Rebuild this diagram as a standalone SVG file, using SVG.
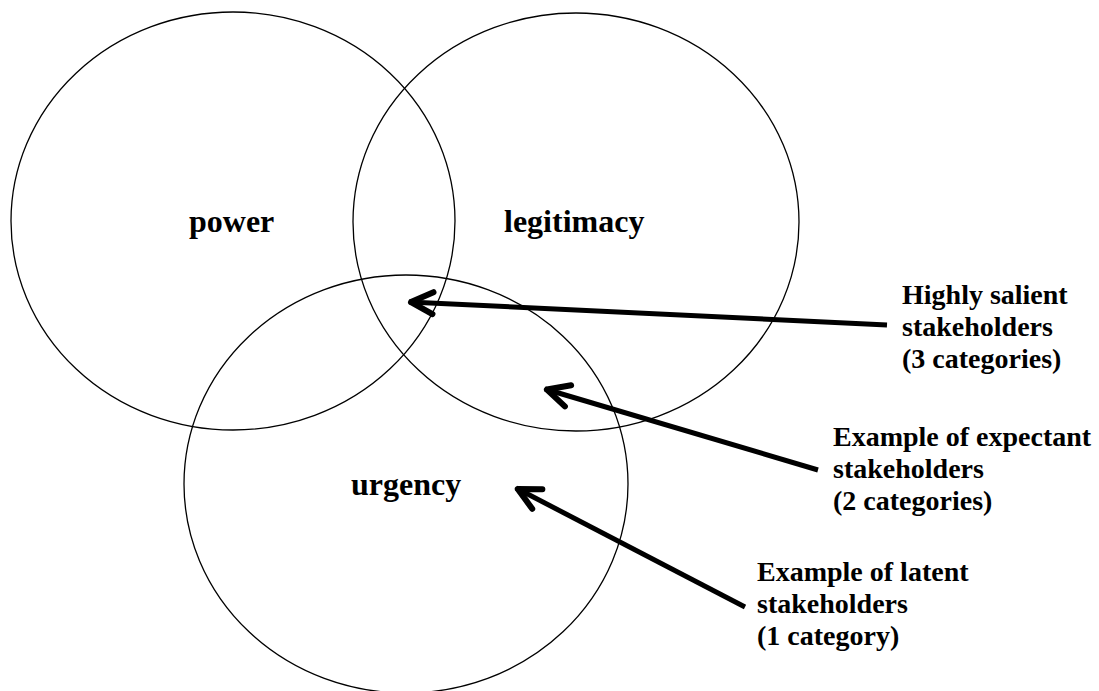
<svg xmlns="http://www.w3.org/2000/svg" width="1099" height="691" viewBox="0 0 1099 691">
  <style>
    .set { fill: none; stroke: #000; stroke-width: 1.3; }
    .big { font-family: "Liberation Serif", "Times New Roman", serif; font-weight: bold; font-size: 32px; fill: #000; }
    .note { font-family: "Liberation Serif", "Times New Roman", serif; font-weight: bold; font-size: 28px; fill: #000; }
    .pointer { fill: none; stroke: #000; stroke-width: 5; }
  </style>
  <defs>
    <marker id="chevron" markerUnits="userSpaceOnUse" markerWidth="60" markerHeight="60" refX="0" refY="0" orient="auto" overflow="visible" viewBox="-30 -30 60 60">
      <path d="M -24 -11 L -2 0 L -24 11" fill="none" stroke="#000" stroke-width="6" stroke-linejoin="round" stroke-linecap="round"/>
    </marker>
  </defs>
  <rect width="1099" height="691" fill="#fff"/>

  <g id="power">
    <ellipse class="set" cx="233" cy="221" rx="222" ry="209"/>
    <text class="big" x="189" y="232">power</text>
  </g>

  <g id="legitimacy">
    <ellipse class="set" cx="576" cy="222" rx="223" ry="209"/>
    <text class="big" x="504" y="232">legitimacy</text>
  </g>

  <g id="urgency">
    <ellipse class="set" cx="406" cy="484" rx="222" ry="209"/>
    <text class="big" x="351" y="495">urgency</text>
  </g>

  <g id="highly-salient">
    <text class="note" x="902"><tspan x="902" y="304">Highly salient</tspan><tspan x="902" y="336">stakeholders</tspan><tspan x="902" y="368">(3 categories)</tspan></text>
  </g>

  <g id="expectant">
    <text class="note"><tspan x="833" y="446">Example of expectant</tspan><tspan x="833" y="478">stakeholders</tspan><tspan x="833" y="510">(2 categories)</tspan></text>
  </g>

  <g id="latent">
    <text class="note"><tspan x="757" y="581">Example of latent</tspan><tspan x="757" y="613">stakeholders</tspan><tspan x="757" y="645">(1 category)</tspan></text>
  </g>

  <g id="connectors">
    <line class="pointer" x1="887" y1="325" x2="409" y2="302" marker-end="url(#chevron)"/>
    <line class="pointer" x1="818" y1="470" x2="545" y2="389" marker-end="url(#chevron)"/>
    <line class="pointer" x1="745" y1="607" x2="516" y2="488" marker-end="url(#chevron)"/>
  </g>
</svg>
